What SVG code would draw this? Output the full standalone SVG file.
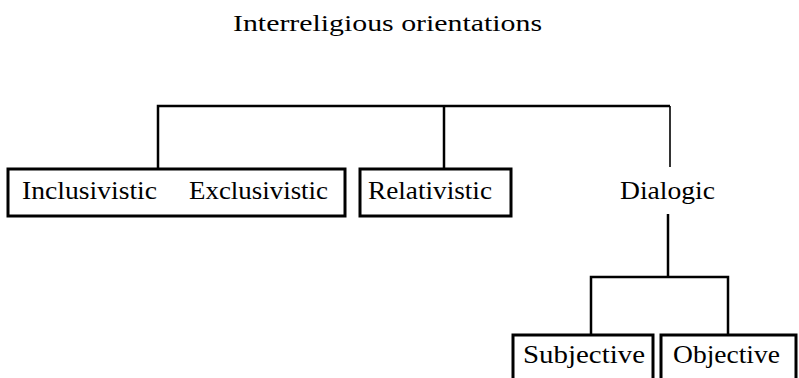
<svg xmlns="http://www.w3.org/2000/svg" width="799" height="378" viewBox="0 0 799 378">
<style>
.box{fill:#fff;stroke:#000;stroke-width:3}
.lbl{font-family:'Liberation Serif','DejaVu Serif',serif;font-size:26px;fill:#000}
.title{font-family:'Liberation Serif','DejaVu Serif',serif;font-size:24px;fill:#000}
.conn{fill:none;stroke:#000;stroke-width:2.5}
.thin{stroke-width:1.6}
</style>
<rect width="799" height="378" fill="#fff"/>
<text class="title" x="233" y="31" textLength="309" lengthAdjust="spacingAndGlyphs">Interreligious orientations</text>
<g id="connectors">
<path class="conn" d="M158,169 V106 H670"/>
<path class="conn thin" d="M670,106 V167"/>
<path class="conn" d="M444,106 V169"/>
<path class="conn" d="M668,214 V277"/>
<path class="conn" d="M591,335 V277 H728 V335"/>
</g>
<g id="node-incl-excl">
<rect class="box" x="8" y="169" width="337" height="47"/>
<text class="lbl" x="22" y="199" textLength="135" lengthAdjust="spacingAndGlyphs">Inclusivistic</text>
<text class="lbl" x="189" y="199" textLength="139" lengthAdjust="spacingAndGlyphs">Exclusivistic</text>
</g>
<g id="node-relativistic">
<rect class="box" x="360" y="169" width="151" height="47"/>
<text class="lbl" x="368" y="199" textLength="124" lengthAdjust="spacingAndGlyphs">Relativistic</text>
</g>
<g id="node-dialogic">
<text class="lbl" x="620" y="199" textLength="95" lengthAdjust="spacingAndGlyphs">Dialogic</text>
</g>
<g id="node-subjective">
<rect class="box" x="513" y="335" width="140" height="60"/>
<text class="lbl" x="523" y="363" textLength="122" lengthAdjust="spacingAndGlyphs">Subjective</text>
</g>
<g id="node-objective">
<rect class="box" x="661" y="335" width="135" height="60"/>
<text class="lbl" x="673" y="363" textLength="107" lengthAdjust="spacingAndGlyphs">Objective</text>
</g>
</svg>
